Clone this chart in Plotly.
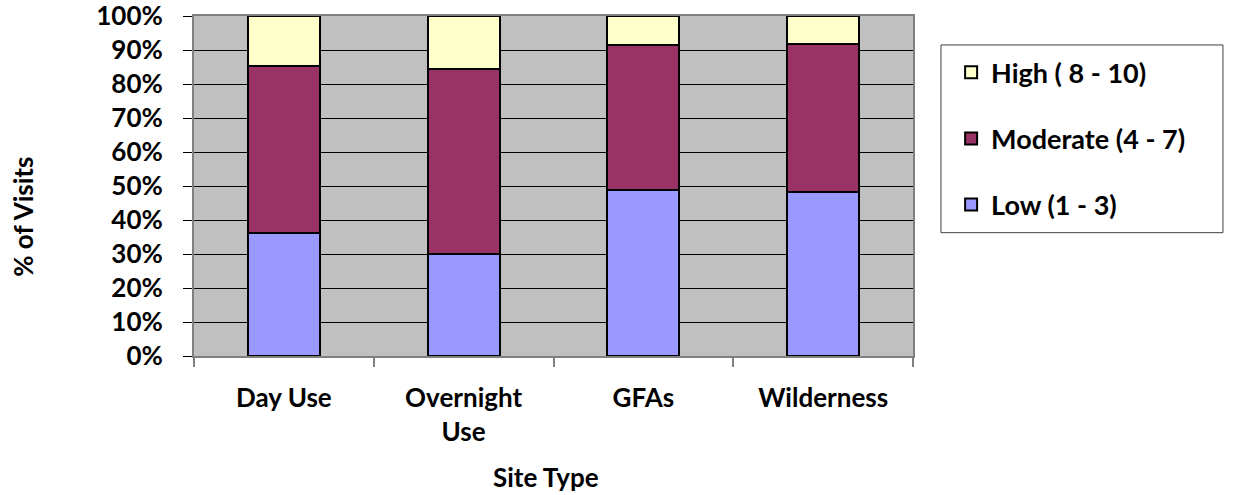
import plotly.graph_objects as go

categories = ["Day Use", "Overnight<br>Use", "GFAs", "Wilderness"]
low = [36.2, 30.0, 48.7, 48.3]
moderate = [49.1, 54.3, 42.8, 43.4]
high = [14.7, 15.7, 8.5, 8.3]
series_names = ["Low (1 - 3)", "Moderate (4 - 7)", "High ( 8 - 10)"]
series_colors = ["#9999FF", "#993366", "#FFFFCC"]
legend_ranks = [3, 2, 1]
y_ticks = [0, 10, 20, 30, 40, 50, 60, 70, 80, 90, 100]
y_ticklabels = [f"{v}%" for v in y_ticks]

FONT = "Lato"
FS = 26
fig = go.Figure()
for name, vals, col, rk in zip(series_names, [low, moderate, high], series_colors, legend_ranks):
    fig.add_trace(go.Bar(
        x=categories, y=vals, name=name, legendgroup=name, legendrank=rk,
        marker=dict(color=col, line=dict(color="black", width=2)),
    ))

fig.update_layout(
    width=1233, height=495,
    barmode="stack", bargap=0.6,
    paper_bgcolor="white", plot_bgcolor="#C0C0C0",
    margin=dict(l=194, r=320, t=16, b=138.5, autoexpand=False),
    font=dict(family=FONT, size=FS, color="black"),
    showlegend=True,
    legend=dict(
        x=1.053, y=0.905, xanchor="left", yanchor="top",
        bgcolor="rgba(0,0,0,0)", borderwidth=0,
        traceorder="grouped", tracegroupgap=28,
        font=dict(family=FONT, size=FS + 1, color="black", weight="bold"),
    ),
    xaxis=dict(
        showline=True, linecolor="#808080", linewidth=2, mirror=True,
        ticks="outside", ticklen=9, tickcolor="#808080", tickwidth=2,
        tickson="boundaries", ticklabelstandoff=18,
        tickfont=dict(family=FONT, size=FS, weight="bold"),
        showgrid=False,
    ),
    yaxis=dict(
        range=[0, 100], tickvals=y_ticks, ticktext=y_ticklabels,
        showline=True, linecolor="#808080", linewidth=2, mirror=True,
        ticks="outside", ticklen=9, tickcolor="black", tickwidth=1,
        ticklabelstandoff=15, ticklabeloverflow="allow",
        tickfont=dict(family=FONT, size=FS, weight="bold"),
        showgrid=True, gridcolor="black", gridwidth=1, zeroline=False,
    ),
    shapes=[
        dict(type="rect", xref="paper", yref="paper",
             x0=1.0389, x1=1.4311, y0=0.3627, y1=0.9148,
             fillcolor="white", line=dict(color="#404040", width=1), layer="below"),
    ],
    annotations=[
        dict(text="<b>Site Type</b>", xref="paper", yref="paper", x=0.49, y=-0.357,
             xanchor="center", yanchor="middle", showarrow=False,
             font=dict(family=FONT, size=FS)),
        dict(text="<b>% of Visits</b>", xref="paper", yref="paper", x=-0.239, y=0.41,
             xanchor="center", yanchor="middle", showarrow=False, textangle=-90,
             font=dict(family=FONT, size=FS)),
    ],
)

fig.write_html("out.html", config={"displayModeBar": False},
               post_script="document.body.style.margin='0';document.body.style.overflow='hidden';")
